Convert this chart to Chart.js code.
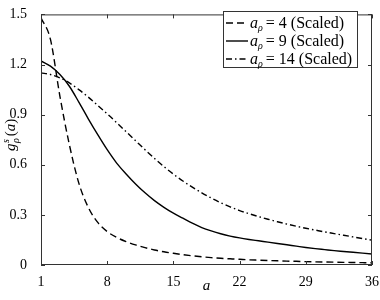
<!DOCTYPE html>
<html lang="en">
<head>
    <meta charset="UTF-8">
    <title>g_rho^s(a)</title>
    <script src="https://cdn.jsdelivr.net/npm/chart.js"></script>
    <style>
        html, body { margin: 0; padding: 0; background: #fff; }
        #wrap { width: 380px; height: 300px; }
    </style>
</head>
<body>
<div id="wrap"><canvas id="chart" width="380" height="300"></canvas></div>
<script>
    // values
    var aValues = [1, 2, 3, 4, 5, 6, 7, 8, 9, 10, 11, 12, 13, 14, 15, 16, 17, 18,
                   19, 20, 21, 22, 23, 24, 25, 26, 27, 28, 29, 30, 31, 32, 33, 34, 35, 36];
    var rho4 = [1.48, 1.35, 1.01, 0.72, 0.49, 0.345, 0.255, 0.2, 0.165, 0.14, 0.12, 0.104,
                0.09, 0.079, 0.07, 0.062, 0.055, 0.049, 0.044, 0.04, 0.037, 0.034, 0.031, 0.029,
                0.027, 0.025, 0.023, 0.022, 0.02, 0.019, 0.018, 0.017, 0.016, 0.015, 0.014, 0.013];
    var rho9 = [1.222, 1.19, 1.14, 1.07, 0.975, 0.875, 0.78, 0.69, 0.61, 0.545, 0.485, 0.432,
                0.385, 0.345, 0.31, 0.28, 0.25, 0.224, 0.204, 0.187, 0.173, 0.162, 0.153, 0.145,
                0.137, 0.129, 0.121, 0.113, 0.105, 0.098, 0.092, 0.086, 0.081, 0.076, 0.071, 0.066];
    var rho14 = [1.15, 1.14, 1.12, 1.09, 1.05, 1.005, 0.955, 0.905, 0.852, 0.798, 0.744, 0.69,
                 0.638, 0.589, 0.544, 0.503, 0.466, 0.432, 0.401, 0.373, 0.348, 0.326, 0.307, 0.29,
                 0.274, 0.259, 0.245, 0.232, 0.22, 0.209, 0.198, 0.188, 0.178, 0.168, 0.158, 0.149];

    var xTicks = [1, 8, 15, 22, 29, 36];
    var yTicks = [0, 0.3, 0.6, 0.9, 1.2, 1.5];
    var yTickLabels = ['0', '0.3', '0.6', '0.9', '1.2', '1.5'];
    var legendRho = ['4', '9', '14'];

    var SERIF = '"Liberation Serif", "DejaVu Serif", serif';

    function points(ys) {
        return aValues.map(function (a, i) { return { x: a, y: ys[i] }; });
    }

    var dashes = [[7, 4], [], [6, 3, 1.5, 3]];

    // box, inward ticks, titles and legend in the matlab style
    var framePlugin = {
        id: 'frame',
        afterDatasetsDraw: function (chart) {
            var ctx = chart.ctx;
            var area = chart.chartArea;
            var xs = chart.scales.x, ys = chart.scales.y;
            ctx.save();
            ctx.strokeStyle = '#333';
            ctx.lineWidth = 1;
            ctx.setLineDash([]);
            ctx.strokeRect(area.left + 0.5, area.top + 0.5, area.right - area.left - 1, area.bottom - area.top - 1);
            ctx.beginPath();
            xTicks.forEach(function (v) {
                var px = Math.round(xs.getPixelForValue(v)) + 0.5;
                ctx.moveTo(px, area.bottom); ctx.lineTo(px, area.bottom - 4);
                ctx.moveTo(px, area.top); ctx.lineTo(px, area.top + 4);
            });
            yTicks.forEach(function (v) {
                var py = Math.round(ys.getPixelForValue(v)) + 0.5;
                ctx.moveTo(area.left, py); ctx.lineTo(area.left + 4, py);
                ctx.moveTo(area.right, py); ctx.lineTo(area.right - 4, py);
            });
            ctx.stroke();
            ctx.restore();
        },
        afterDraw: function (chart) {
            var ctx = chart.ctx;
            var area = chart.chartArea;
            ctx.save();
            ctx.fillStyle = '#000';
            ctx.textBaseline = 'alphabetic';

            // x title
            ctx.font = 'italic 15px ' + SERIF;
            ctx.textAlign = 'center';
            ctx.fillText('a', (area.left + area.right) / 2, 290);

            // y title g_rho^s(a)
            ctx.save();
            ctx.translate(15, 132);
            ctx.rotate(-Math.PI / 2);
            ctx.textAlign = 'left';
            var x = -19;
            ctx.font = 'italic 15px ' + SERIF;
            ctx.fillText('g', x, 0);
            x += ctx.measureText('g').width + 0.5;
            ctx.font = 'italic 10px ' + SERIF;
            ctx.fillText('s', x, -6);
            ctx.fillText('\u03c1', x, 4);
            x += ctx.measureText('\u03c1').width + 2;
            ctx.font = '15px ' + SERIF;
            ctx.fillText('(', x, 0);
            x += ctx.measureText('(').width;
            ctx.font = 'italic 15px ' + SERIF;
            ctx.fillText('a', x, 0);
            x += ctx.measureText('a').width;
            ctx.font = '15px ' + SERIF;
            ctx.fillText(')', x, 0);
            ctx.restore();

            // legend
            var bx = 223, by = 11, bw = 134, bh = 56;
            ctx.fillStyle = '#fff';
            ctx.fillRect(bx, by, bw, bh);
            ctx.strokeStyle = '#333';
            ctx.lineWidth = 1;
            ctx.strokeRect(bx + 0.5, by + 0.5, bw, bh);
            chart.data.datasets.forEach(function (ds, i) {
                var cy = 23 + i * 18;
                ctx.strokeStyle = '#000';
                ctx.lineWidth = 1.4;
                ctx.setLineDash(dashes[i]);
                ctx.beginPath();
                ctx.moveTo(226, cy);
                ctx.lineTo(248, cy);
                ctx.stroke();
                ctx.setLineDash([]);
                ctx.fillStyle = '#000';
                ctx.textAlign = 'left';
                var tx = 250, ty = cy + 5;
                ctx.font = 'italic 16px ' + SERIF;
                ctx.fillText('a', tx, ty);
                tx += ctx.measureText('a').width;
                ctx.font = 'italic 10px ' + SERIF;
                ctx.fillText('\u03c1', tx, ty + 3);
                tx += ctx.measureText('\u03c1').width + 3;
                ctx.font = '16px ' + SERIF;
                ctx.fillText('= ' + legendRho[i] + ' (Scaled)', tx, ty);
            });
            ctx.restore();
        }
    };

    var config = {
        type: 'line',
        data: {
            datasets: [{
                label: 'a_rho = 4 (Scaled)',
                data: points(rho4),
                borderColor: '#000',
                borderWidth: 1.4,
                borderDash: dashes[0],
                pointRadius: 0,
                fill: false,
                cubicInterpolationMode: 'monotone'
            }, {
                label: 'a_rho = 9 (Scaled)',
                data: points(rho9),
                borderColor: '#000',
                borderWidth: 1.4,
                pointRadius: 0,
                fill: false,
                cubicInterpolationMode: 'monotone'
            }, {
                label: 'a_rho = 14 (Scaled)',
                data: points(rho14),
                borderColor: '#000',
                borderWidth: 1.4,
                borderDash: dashes[2],
                pointRadius: 0,
                fill: false,
                cubicInterpolationMode: 'monotone'
            }]
        },
        options: {
            responsive: false,
            animation: false,
            layout: { padding: { left: 0, right: 7, top: 5, bottom: 0 } },
            plugins: {
                legend: { display: false },
                tooltip: { enabled: false }
            },
            scales: {
                x: {
                    type: 'linear',
                    min: 1,
                    max: 36,
                    afterBuildTicks: function (scale) {
                        scale.ticks = xTicks.map(function (v) { return { value: v }; });
                    },
                    afterFit: function (scale) { scale.height = 35; },
                    grid: { display: false },
                    border: { display: false },
                    ticks: {
                        color: '#000',
                        padding: 1,
                        maxRotation: 0,
                        font: { family: SERIF, size: 14 }
                    }
                },
                y: {
                    min: 0,
                    max: 1.5,
                    afterBuildTicks: function (scale) {
                        scale.ticks = yTicks.map(function (v) { return { value: v }; });
                    },
                    afterFit: function (scale) { scale.width = 41; },
                    grid: { display: false },
                    border: { display: false },
                    ticks: {
                        color: '#000',
                        padding: 6,
                        font: { family: SERIF, size: 14 },
                        callback: function (v, i) { return yTickLabels[i]; }
                    }
                }
            }
        },
        plugins: [framePlugin]
    };

    var myChart = new Chart(document.getElementById('chart'), config);
</script>
</body>
</html>
